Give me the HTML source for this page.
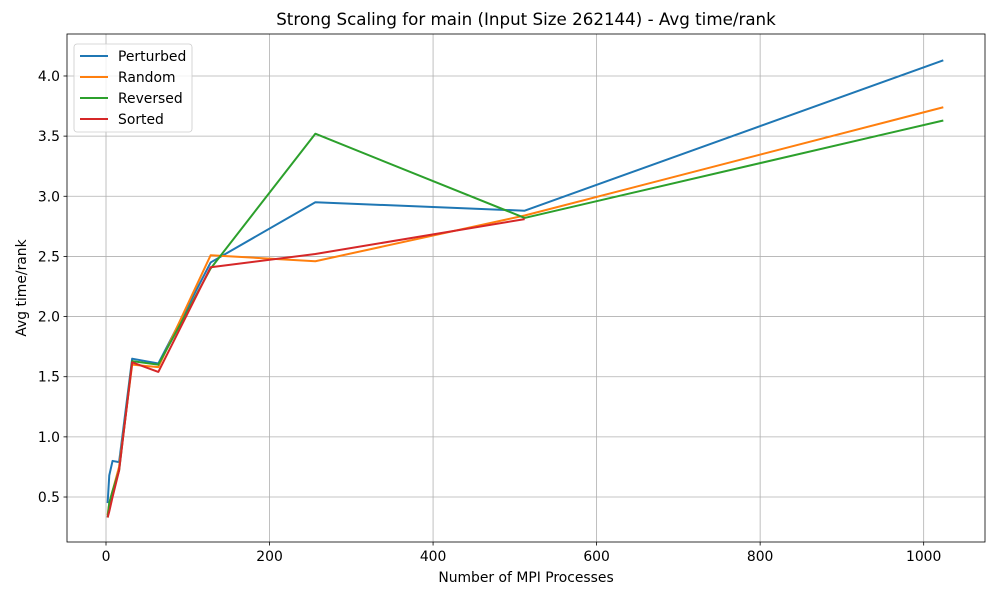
<!DOCTYPE html>
<html><head><meta charset="utf-8"><style>
body{margin:0;background:#fff;font-family:"Liberation Sans","DejaVu Sans",sans-serif}
svg text{font-family:"DejaVu Sans","Liberation Sans",sans-serif;fill:#000}
</style></head><body>
<svg id="chart" width="1000" height="600" xmlns="http://www.w3.org/2000/svg"></svg>
<script>
const xVals=[2,4,8,16,32,64,128,256,512,1024];
const perturbed=[0.45,0.68,0.80,0.79,1.65,1.61,2.45,2.95,2.88,4.13];
const random=[0.35,0.45,0.55,0.75,1.60,1.58,2.51,2.46,2.84,3.74];
const reversed=[0.33,0.45,0.55,0.72,1.63,1.60,2.40,3.52,2.82,3.63];
const sortedX=[2,4,8,16,32,64,128,256,512];
const sorted=[0.33,0.38,0.50,0.72,1.62,1.54,2.41,2.52,2.81];
const xTicks=[0,200,400,600,800,1000];
const yTicks=[0.5,1.0,1.5,2.0,2.5,3.0,3.5,4.0];
const L=67,R=985,T=34,B=542;
const xMin=-47.7,xMax=1075,yMin=0.126,yMax=4.349;
const sx=v=>L+(v-xMin)/(xMax-xMin)*(R-L);
const sy=v=>B-(v-yMin)/(yMax-yMin)*(B-T);
const svg=document.getElementById('chart');
const NS='http://www.w3.org/2000/svg';
function mk(tag,attrs,parent){const e=document.createElementNS(NS,tag);for(const k in attrs)e.setAttribute(k,attrs[k]);(parent||svg).appendChild(e);return e;}
const grid=mk('g',{});


xTicks.forEach(t=>{const x=sx(t);
 const gl=mk('line',{x1:x,x2:x,y1:T,y2:B,stroke:'#b0b0b0','stroke-width':0.8},grid);
 
 
 mk('line',{x1:x,x2:x,y1:B,y2:B+3.5,stroke:'#000','stroke-width':0.8});
 const tx=mk('text',{x:x,y:B+19,'text-anchor':'middle','font-size':13.9});tx.textContent=t;
 
 
});
yTicks.forEach(t=>{const y=sy(t);
 const gl=mk('line',{x1:L,x2:R,y1:y,y2:y,stroke:'#b0b0b0','stroke-width':0.8},grid);
 
 
 mk('line',{x1:L-3.5,x2:L,y1:y,y2:y,stroke:'#000','stroke-width':0.8});
 const tx=mk('text',{x:L-7,y:y+5,'text-anchor':'end','font-size':13.9});tx.textContent=t.toFixed(1);
 
 
});
const series=[['perturbed',xVals,perturbed,'#1f77b4','Perturbed'],['random',xVals,random,'#ff7f0e','Random'],['reversed',xVals,reversed,'#2ca02c','Reversed'],['sorted',sortedX,sorted,'#d62728','Sorted']];
series.forEach(s=>{const p=mk('polyline',{points:s[1].map((x,i)=>sx(x)+','+sy(s[2][i])).join(' '),fill:'none',stroke:s[3],'stroke-width':2,'stroke-linejoin':'round'});
 
 
});
const frame=mk('rect',{x:L,y:T,width:R-L,height:B-T,fill:'none',stroke:'#000','stroke-width':0.8});


const title=mk('text',{x:(L+R)/2,y:T-9,'text-anchor':'middle','font-size':16.7});title.textContent='Strong Scaling for main (Input Size 262144) - Avg time/rank';


const xl=mk('text',{x:(L+R)/2,y:582,'text-anchor':'middle','font-size':13.9});xl.textContent='Number of MPI Processes';


const yl=mk('text',{x:26,y:(T+B)/2,'text-anchor':'middle','font-size':13.9,transform:'rotate(-90 26 '+((T+B)/2)+')'});yl.textContent='Avg time/rank';


const lg=mk('g',{});


mk('rect',{x:74,y:44,width:118,height:88,rx:3,fill:'#fff','fill-opacity':0.8,stroke:'#ccc','stroke-width':0.8},lg);
series.forEach((s,i)=>{const y=56+i*21;
 const e=mk('g',{},lg);
 
 
 mk('line',{x1:80,x2:108,y1:y,y2:y,stroke:s[3],'stroke-width':2},e);
 const t=mk('text',{x:118,y:y+5,'font-size':13.9},e);t.textContent=s[4];
});
</script>
</body></html>
